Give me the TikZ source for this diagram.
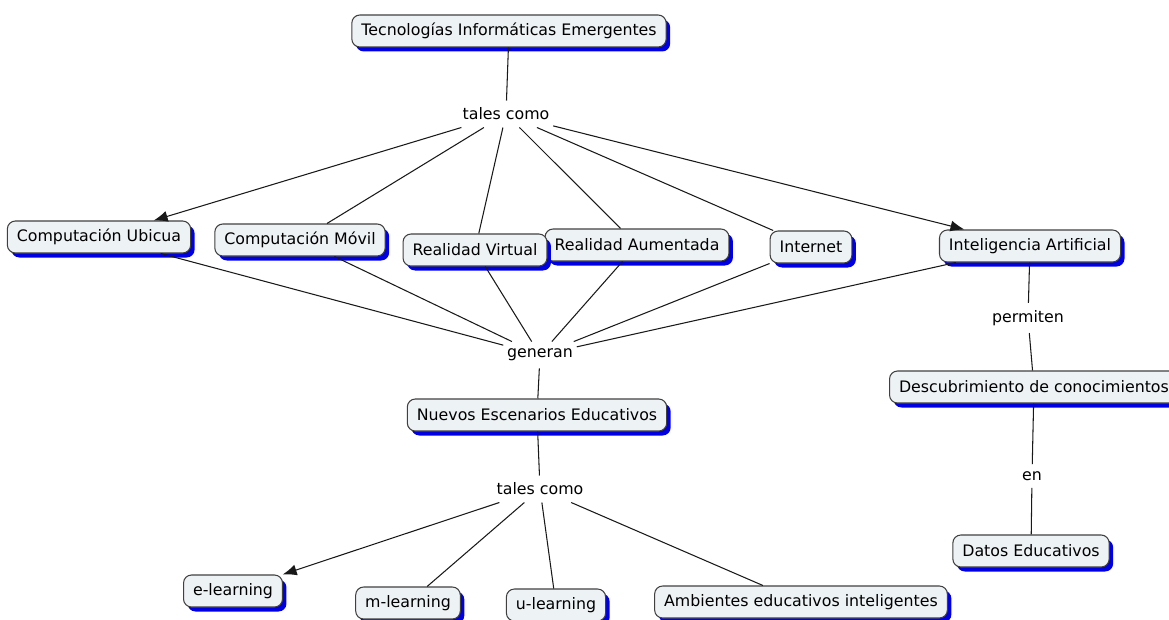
\documentclass[tikz,border=0pt]{standalone}
\usepackage{fontspec}
\setmainfont{DejaVu Sans}
\usetikzlibrary{shadows,arrows.meta}

\begin{document}
\begin{tikzpicture}[x=0.02cm,y=-0.02cm,
        concept/.style={draw=conceptborder, fill=conceptfill, rounded corners=0.16cm, line width=0.6pt,
            inner xsep=0.19cm, minimum height=0.64cm, font=\fontsize{9}{11}\selectfont,
            drop shadow={shadow xshift=0.08cm, shadow yshift=-0.09cm, fill=shadowblue, opacity=1}},
        linkword/.style={inner xsep=2pt, inner ysep=4pt, font=\fontsize{9}{11}\selectfont},
        link/.style={draw=linkline, line width=0.6pt},
        linkarrow/.style={link, -{Latex[length=0.28cm, width=0.22cm]}}]
        % Define colors for concepts
        \definecolor{conceptfill}{rgb}{0.93, 0.95, 0.96} % Light grey-blue
        \definecolor{conceptborder}{rgb}{0.25, 0.25, 0.25} % Dark grey
        \definecolor{shadowblue}{rgb}{0.0, 0.0, 0.88} % Blue shadow
        \definecolor{linkline}{rgb}{0.1, 0.1, 0.1}

        % Picture frame
        \useasboundingbox (0,0) rectangle (1169,619);
        \clip (0,0) rectangle (1169,619);

        % Top concept and first linking phrase
        \node[concept] (tie) at (509,31) {Tecnologías Informáticas Emergentes};
        \node[linkword] (talescomoA) at (506,114) {tales como};

        % Technologies
        \node[concept] (ubicua) at (99,237) {Computación Ubicua};
        \node[concept] (movil) at (300,240) {Computación Móvil};
        \node[concept] (aumentada) at (637,245) {Realidad Aumentada};
        \node[concept] (virtual) at (475,250) {Realidad Virtual};
        \node[concept] (internet) at (811,247) {Internet};
        \node[concept] (ia) at (1030,246) {Inteligencia Artificial};

        % Right branch
        \node[linkword] (permiten) at (1028,318) {permiten};
        \node[concept, anchor=west] (descubrimiento) at (889,387) {Descubrimiento de conocimientos};
        \node[linkword] (en) at (1032,476) {en};
        \node[concept] (datos) at (1031,551) {Datos Educativos};

        % Middle branch
        \node[linkword] (generan) at (540,355) {generan};
        \node[concept] (escenarios) at (537,415) {Nuevos Escenarios Educativos};
        \node[linkword] (talescomoB) at (540,489) {tales como};

        % Learning scenarios
        \node[concept] (elearning) at (233,591) {e-learning};
        \node[concept] (mlearning) at (408,603) {m-learning};
        \node[concept] (ulearning) at (556,605) {u-learning};
        \node[concept] (ambientes) at (801,602) {Ambientes educativos inteligentes};

        % Connectors from the top concept
        \draw[link] (tie) -- (talescomoA);
        \draw[linkarrow] (talescomoA) -- (ubicua);
        \draw[link] (talescomoA) -- (movil);
        \draw[link] (talescomoA) -- (virtual);
        \draw[link] (talescomoA) -- (aumentada);
        \draw[link] (talescomoA) -- (internet);
        \draw[linkarrow] (talescomoA) -- (ia);

        % Connectors into generan
        \draw[link] (ubicua) -- (generan);
        \draw[link] (movil) -- (generan);
        \draw[link] (virtual) -- (generan);
        \draw[link] (aumentada) -- (generan);
        \draw[link] (internet) -- (generan);
        \draw[link] (ia) -- (generan);
        \draw[link] (generan) -- (escenarios);

        % Right branch connectors
        \draw[link] (ia) -- (permiten);
        \draw[link] (permiten) -- (descubrimiento);
        \draw[link] (descubrimiento) -- (en);
        \draw[link] (en) -- (datos);

        % Bottom connectors
        \draw[link] (escenarios) -- (talescomoB);
        \draw[linkarrow] (talescomoB) -- (elearning);
        \draw[link] (talescomoB) -- (mlearning);
        \draw[link] (talescomoB) -- (ulearning);
        \draw[link] (talescomoB) -- (ambientes);
\end{tikzpicture}
\end{document}
